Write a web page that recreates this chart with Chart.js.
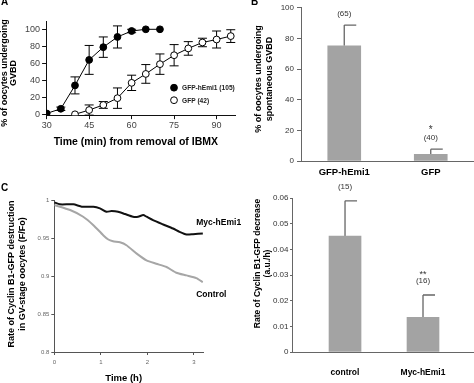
<!DOCTYPE html>
<html><head><meta charset="utf-8">
<script src="https://cdn.jsdelivr.net/npm/chart.js@4.4.1/dist/chart.umd.min.js"></script>
<style>
html,body{margin:0;padding:0;background:#fff;}
#fig{position:relative;width:474px;height:383px;overflow:hidden;background:#fff;}
canvas{position:absolute;}
.lab{position:absolute;font-family:'Liberation Sans',Arial,sans-serif;font-weight:bold;font-size:10px;line-height:10px;color:#000;}
</style></head><body>
<div id="fig">
  <canvas id="cA" width="240" height="150" style="left:0;top:0"></canvas>
  <canvas id="cB" width="234" height="180" style="left:240px;top:0"></canvas>
  <canvas id="cC" width="260" height="203" style="left:0;top:180px"></canvas>
  <canvas id="cD" width="234" height="203" style="left:240px;top:180px"></canvas>
  <div class="lab" style="left:1px;top:-3px">A</div>
  <div class="lab" style="left:251px;top:-3px">B</div>
  <div class="lab" style="left:1px;top:183px">C</div>
</div>
<script>
// ---------- Panel A : % GVBD vs time ----------
const timeHemi = [30, 35, 40, 45, 50, 55, 60, 65, 70];
const pctHemi  = [1, 6.5, 34, 64, 79, 91, 98, 100, 100];
const errHemi  = [0, 2, 10, 17, 12, 13, 2, 0, 0];
const timeGfp  = [40, 45, 50, 55, 60, 65, 70, 75, 80, 85, 90, 95];
const pctGfp   = [0, 5, 11, 19, 37, 47.5, 59, 69.5, 77.5, 84.5, 88, 92];
const errGfp   = [0, 6, 4, 12, 9, 11, 12, 12.5, 8, 5, 10, 7.5];
const seriesA  = ['GFP-hEmi1 (105)', 'GFP (42)'];
const ticksAX  = [30, 45, 60, 75, 90];
const ticksAY  = [0, 20, 40, 60, 80, 100];

// ---------- Panel B : spontaneous GVBD ----------
const catsB   = ['GFP-hEmi1', 'GFP'];
const valsB   = [75.2, 4.3];
const errB    = [13.5, 3.4];
const notesB  = [['(65)'], ['*', '(40)']];
const ticksBY = [0, 20, 40, 60, 80, 100];

// ---------- Panel C : Cyclin B1-GFP traces ----------
const seriesC  = ['Myc-hEmi1', 'Control'];
const timeMyc  = [0, 0.12, 0.41, 0.59, 0.84, 0.98, 1.12, 1.23, 1.37, 1.52, 1.69, 1.80, 1.91, 1.98, 2.12, 2.34, 2.55, 2.69, 2.84, 2.98, 3.19];
const valMyc   = [0.9969, 0.9943, 0.9943, 0.9912, 0.9912, 0.9890, 0.9846, 0.9854, 0.9846, 0.9815, 0.978, 0.978, 0.9802, 0.978, 0.9735, 0.9678, 0.9625, 0.9581, 0.9546, 0.9550, 0.9559];
const timeCtrl = [0, 0.34, 0.62, 0.84, 1.05, 1.16, 1.26, 1.41, 1.55, 1.77, 1.98, 2.19, 2.41, 2.62, 2.84, 3.05, 3.19];
const valCtrl  = [0.9934, 0.9868, 0.978, 0.9669, 0.9537, 0.948, 0.9458, 0.9444, 0.9405, 0.9295, 0.9206, 0.9162, 0.9118, 0.9043, 0.9008, 0.8973, 0.892];
const ticksCX  = [0, 1, 2, 3];
const ticksCXLabels = ['0', '1', '2', '3'];
const ticksCY  = [0.8, 0.85, 0.9, 0.95, 1];
const ticksCYLabels = ['0.8', '0.85', '0.9', '0.95', '1'];

// ---------- Panel D : rate of decrease ----------
const catsD   = ['control', 'Myc-hEmi1'];
const valsD   = [0.0452, 0.0135];
const errD    = [0.0137, 0.0087];
const notesD  = [['(15)'], ['**', '(16)']];
const ticksDY = [0, 0.01, 0.02, 0.03, 0.04, 0.05, 0.06];
const ticksDYLabels = ['0', '0.01', '0.02', '0.03', '0.04', '0.05', '0.06'];

// ================= helpers / plugins =================
const FONT = "'Liberation Sans', Arial, Helvetica, sans-serif";
Chart.defaults.font.family = FONT;

const fixTicks = vals => scale => { scale.ticks = vals.map(v => ({ value: v })); };
const xy = (xs, ys) => xs.map((x, i) => ({ x: x, y: ys[i] }));

function errorBars(o) {
  return {
    id: 'errorBars',
    beforeDatasetsDraw(chart) {
      const ctx = chart.ctx;
      chart.data.datasets.forEach((ds, di) => {
        if (!ds.errors) return;
        const meta = chart.getDatasetMeta(di);
        const ys = chart.scales[meta.yAxisID];
        ctx.save();
        ctx.strokeStyle = o.color; ctx.lineWidth = o.width; ctx.lineCap = 'butt';
        meta.data.forEach((el, i) => {
          const e = ds.errors[i];
          if (!e) return;
          const raw = ds.data[i];
          const v = typeof raw === 'object' ? raw.y : raw;
          const x = el.x;
          const yt = ys.getPixelForValue(v + e);
          const yb = o.upOnly ? ys.getPixelForValue(v) : ys.getPixelForValue(v - e);
          ctx.beginPath();
          ctx.moveTo(x, yb); ctx.lineTo(x, yt);
          ctx.moveTo(x - o.capL, yt); ctx.lineTo(x + o.capR, yt);
          if (!o.upOnly) { ctx.moveTo(x - o.capL, yb); ctx.lineTo(x + o.capR, yb); }
          ctx.stroke();
        });
        ctx.restore();
      });
    }
  };
}

function freeText(items) {
  return {
    id: 'freeText',
    afterDraw(chart) {
      const ctx = chart.ctx;
      items.forEach(it => {
        ctx.save();
        ctx.font = it.font; ctx.fillStyle = it.color || '#000';
        ctx.textAlign = 'center'; ctx.textBaseline = 'middle';
        ctx.translate(it.x, it.y);
        if (it.rotate) ctx.rotate(it.rotate);
        const lines = Array.isArray(it.text) ? it.text : [it.text];
        lines.forEach((ln, i) => ctx.fillText(ln, 0, (i - (lines.length - 1) / 2) * it.lh));
        ctx.restore();
      });
    }
  };
}

function barNotes(notes, o) {
  return {
    id: 'barNotes',
    afterDatasetsDraw(chart) {
      const ctx = chart.ctx;
      const ds = chart.data.datasets[0];
      const meta = chart.getDatasetMeta(0);
      const ys = chart.scales.y;
      ctx.save();
      ctx.fillStyle = o.color;
      ctx.textAlign = 'center'; ctx.textBaseline = 'middle';
      meta.data.forEach((el, i) => {
        const top = ys.getPixelForValue(ds.data[i].y + ds.errors[i]);
        const lines = notes[i];
        lines.forEach((ln, j) => {
          ctx.font = (ln.indexOf('*') >= 0 ? o.starFont : o.font);
          const dy = ln.indexOf('*') >= 0 ? o.starShift : 0;
          ctx.fillText(ln, el.x, top - o.gap - (lines.length - 1 - j) * o.lh + dy);
        });
      });
      ctx.restore();
    }
  };
}

function pointLegend(o) {
  return {
    id: 'pointLegend',
    afterDraw(chart) {
      const ctx = chart.ctx;
      chart.data.datasets.forEach((ds, i) => {
        const y = o.y + i * o.dy;
        ctx.save();
        ctx.beginPath();
        ctx.arc(o.x, y, ds.pointRadius, 0, Math.PI * 2);
        ctx.fillStyle = ds.pointBackgroundColor; ctx.fill();
        ctx.lineWidth = 1; ctx.strokeStyle = ds.pointBorderColor; ctx.stroke();
        ctx.font = o.font; ctx.fillStyle = o.color;
        ctx.textAlign = 'left'; ctx.textBaseline = 'middle';
        ctx.fillText(ds.label, o.x + o.tx, y + 0.5);
        ctx.restore();
      });
    }
  };
}

function endLabels(o) {
  return {
    id: 'endLabels',
    afterDatasetsDraw(chart) {
      const ctx = chart.ctx;
      chart.data.datasets.forEach((ds, i) => {
        const meta = chart.getDatasetMeta(i);
        const el = meta.data[meta.data.length - 1];
        ctx.save();
        ctx.font = o.font; ctx.fillStyle = '#000';
        ctx.textAlign = 'left'; ctx.textBaseline = 'middle';
        ctx.fillText(ds.label, el.x + o.dx, el.y + ds.labelDy);
        ctx.restore();
      });
    }
  };
}

const base = {
  responsive: false, maintainAspectRatio: false, animation: false, devicePixelRatio: 1, events: [],
};
const noPlug = { legend: { display: false }, tooltip: { enabled: false }, title: { display: false } };
const R90 = -Math.PI / 2;

// ================= Panel A =================
new Chart(document.getElementById('cA'), {
  type: 'line',
  data: {
    datasets: [
      { label: seriesA[0], data: xy(timeHemi, pctHemi), errors: errHemi,
        borderColor: '#000', borderWidth: 1, tension: 0, fill: false,
        pointRadius: 3.4, pointBackgroundColor: '#000', pointBorderColor: '#000', pointBorderWidth: 1 },
      { label: seriesA[1], data: xy(timeGfp, pctGfp), errors: errGfp,
        borderColor: '#000', borderWidth: 1, tension: 0, fill: false,
        pointRadius: 3.4, pointBackgroundColor: '#fff', pointBorderColor: '#000', pointBorderWidth: 1 }
    ]
  },
  options: Object.assign({}, base, {
    layout: { padding: { left: 0, top: 21.65, right: 0.5, bottom: 0 } },
    scales: {
      x: { type: 'linear', min: 29.8, max: 96.5,
        afterBuildTicks: fixTicks(ticksAX), afterFit: s => { s.height = 34.85; },
        grid: { drawOnChartArea: false, tickLength: 4, color: '#111' },
        border: { color: '#111', width: 1 },
        ticks: { font: { size: 9 }, color: '#444', padding: 1, maxRotation: 0, autoSkip: false } },
      y: { type: 'linear', min: -1, max: 109,
        afterBuildTicks: fixTicks(ticksAY), afterFit: s => { s.width = 46.1; },
        grid: { drawOnChartArea: false, tickLength: 4, color: '#111' },
        border: { color: '#111', width: 1 },
        ticks: { font: { size: 9 }, color: '#444', padding: 2 } }
    },
    plugins: noPlug
  }),
  plugins: [
    errorBars({ color: '#000', width: 1, capL: 4.5, capR: 4.5, upOnly: false }),
    pointLegend({ x: 174, y: 87.7, dy: 12.5, tx: 8, font: 'bold 6.6px ' + FONT, color: '#222' }),
    freeText([
      { text: ['% of oocytes undergoing', 'GVBD'], x: 9.2, y: 73, rotate: R90, lh: 8.6, font: 'bold 9px ' + FONT },
      { text: 'Time (min) from removal of IBMX', x: 135.8, y: 142, lh: 10, font: 'bold 10.5px ' + FONT }
    ])
  ]
});

// ================= Panel B =================
new Chart(document.getElementById('cB'), {
  type: 'bar',
  data: { datasets: [ { data: xy([0, 1], valsB), errors: errB, backgroundColor: '#a3a3a3', borderWidth: 0, barThickness: 33 } ] },
  options: Object.assign({}, base, {
    layout: { padding: { left: 0, top: 5, right: 0, bottom: 0 } },
    scales: {
      x: { type: 'linear', min: -0.5, max: 1.5, offset: false,
        afterBuildTicks: fixTicks([0, 1]), afterFit: s => { s.height = 19; },
        grid: { drawOnChartArea: false, drawTicks: false, offset: false },
        border: { color: '#666', width: 1 },
        ticks: { font: { size: 9.5, weight: 'bold' }, color: '#000', padding: 6, maxRotation: 0, autoSkip: false,
          callback: (v, i) => catsB[i] } },
      y: { type: 'linear', min: 0, max: 100,
        afterBuildTicks: fixTicks(ticksBY), afterFit: s => { s.width = 61; },
        grid: { drawOnChartArea: false, tickLength: 4, color: '#666' },
        border: { color: '#666', width: 1 },
        ticks: { font: { size: 8 }, color: '#333', padding: 3 } }
    },
    plugins: noPlug
  }),
  plugins: [
    errorBars({ color: '#666', width: 1.3, capL: 0, capR: 12, upOnly: true }),
    barNotes(notesB, { gap: 11, lh: 9.5, font: '8px ' + FONT, starFont: '10px ' + FONT, starShift: 1.5, color: '#333' }),
    freeText([
      { text: ['% of oocytes undergoing', 'spontaneous GVBD'], x: 24.5, y: 79, rotate: R90, lh: 11, font: 'bold 9px ' + FONT }
    ])
  ]
});

// ================= Panel C =================
new Chart(document.getElementById('cC'), {
  type: 'line',
  data: {
    datasets: [
      { label: seriesC[0], data: xy(timeMyc, valMyc), borderColor: '#111', borderWidth: 2, pointRadius: 0, tension: 0.2, fill: false, labelDy: -11 },
      { label: seriesC[1], data: xy(timeCtrl, valCtrl), borderColor: '#a6a6a6', borderWidth: 2, pointRadius: 0, tension: 0.2, fill: false, labelDy: 12.3 }
    ]
  },
  options: Object.assign({}, base, {
    layout: { padding: { left: 0, top: 20, right: 56.7, bottom: 0 } },
    scales: {
      x: { type: 'linear', min: 0, max: 3.2,
        afterBuildTicks: fixTicks(ticksCX), afterFit: s => { s.height = 31; },
        grid: { drawOnChartArea: false, tickLength: 3, color: '#555' },
        border: { color: '#555', width: 1 },
        ticks: { font: { size: 6 }, color: '#666', padding: 4, maxRotation: 0, autoSkip: false,
          callback: (v, i) => ticksCXLabels[i] } },
      y: { type: 'linear', min: 0.8, max: 1,
        afterBuildTicks: fixTicks(ticksCY), afterFit: s => { s.width = 54.3; },
        grid: { drawOnChartArea: false, tickLength: 3, color: '#555' },
        border: { color: '#555', width: 1 },
        ticks: { font: { size: 6 }, color: '#666', padding: 2, callback: (v, i) => ticksCYLabels[i] } }
    },
    plugins: noPlug
  }),
  plugins: [
    endLabels({ dx: -6.6, font: 'bold 8.5px ' + FONT }),
    freeText([
      { text: ['Rate of Cyclin B1-GFP destruction', 'in GV-stage oocytes (F/Fo)'], x: 17, y: 94, rotate: R90, lh: 10.8, font: 'bold 9px ' + FONT },
      { text: 'Time (h)', x: 123.7, y: 198, lh: 10, font: 'bold 9.5px ' + FONT }
    ])
  ]
});

// ================= Panel D =================
new Chart(document.getElementById('cD'), {
  type: 'bar',
  data: { datasets: [ { data: xy([0, 1], valsD), errors: errD, backgroundColor: '#a3a3a3', borderWidth: 0, barThickness: 32 } ] },
  options: Object.assign({}, base, {
    layout: { padding: { left: 0, top: 18, right: 0, bottom: 0 } },
    scales: {
      x: { type: 'linear', min: -0.68, max: 1.654, offset: false,
        afterBuildTicks: fixTicks([0, 1]), afterFit: s => { s.height = 31; },
        grid: { drawOnChartArea: false, drawTicks: false, offset: false },
        border: { color: '#666', width: 1 },
        ticks: { font: { size: 8.5, weight: 'bold' }, color: '#000', padding: 16, maxRotation: 0, autoSkip: false,
          callback: (v, i) => catsD[i] } },
      y: { type: 'linear', min: 0, max: 0.06,
        afterBuildTicks: fixTicks(ticksDY), afterFit: s => { s.width = 52; },
        grid: { drawOnChartArea: false, tickLength: 2, color: '#666' },
        border: { color: '#666', width: 1 },
        ticks: { font: { size: 8 }, color: '#333', padding: 1.5, callback: (v, i) => ticksDYLabels[i] } }
    },
    plugins: noPlug
  }),
  plugins: [
    errorBars({ color: '#666', width: 1.3, capL: 0, capR: 12, upOnly: true }),
    barNotes(notesD, { gap: 14, lh: 7.5, font: '8px ' + FONT, starFont: '9px ' + FONT, starShift: 1, color: '#333' }),
    freeText([
      { text: ['Rate of Cyclin B1-GFP decrease', '(a.u./h)'], x: 22.5, y: 83.5, rotate: R90, lh: 10.2, font: 'bold 8.5px ' + FONT }
    ])
  ]
});
</script>
</body></html>
